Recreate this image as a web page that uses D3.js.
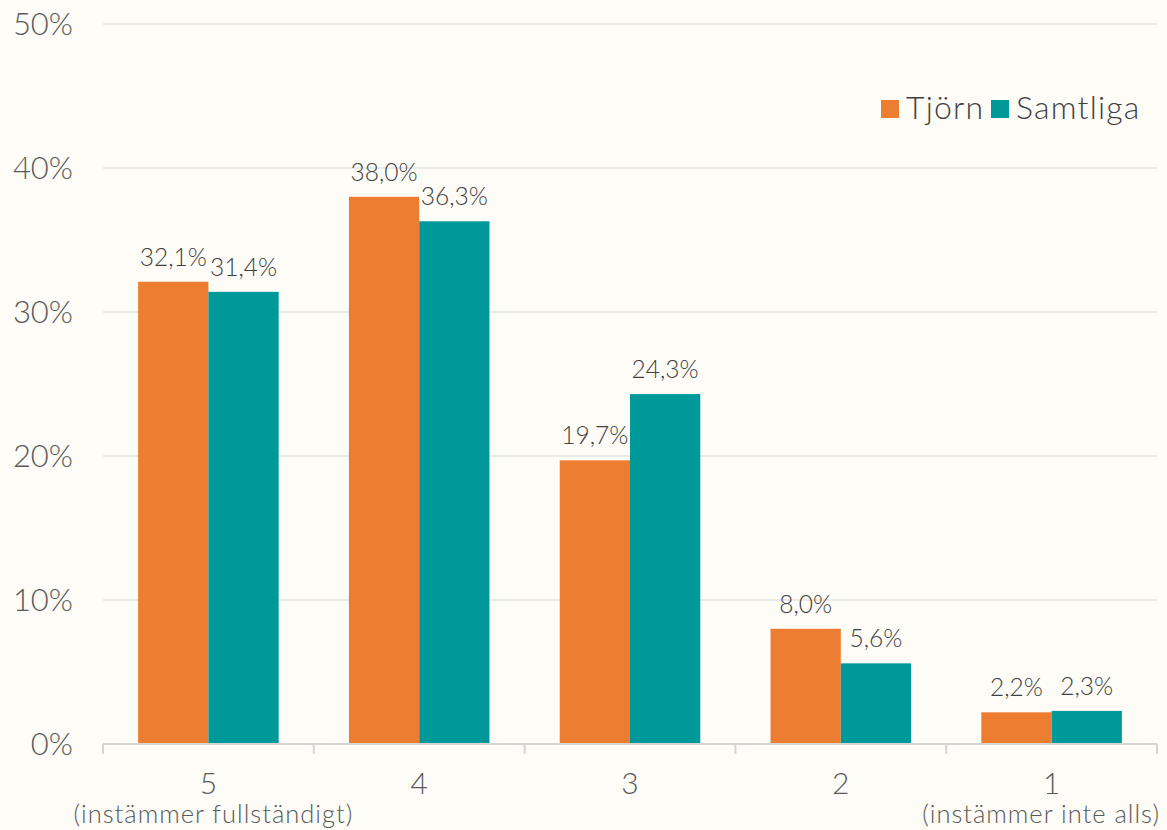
<!DOCTYPE html>
<html><head><meta charset="utf-8">
<script src="https://cdn.jsdelivr.net/npm/d3@7"></script>
<style>
html,body{margin:0;padding:0;background:#FDFCF7;}
svg{display:block;font-family:"Lato","Open Sans",sans-serif;}
</style></head>
<body>
<svg id="c" width="1167" height="830"></svg>
<script>
const categories = ["5", "4", "3", "2", "1"];
const subLabels = ["(instämmer fullständigt)", "", "", "", "(instämmer inte alls)"];
const seriesNames = ["Tjörn", "Samtliga"];
const tjorn = [32.1, 38.0, 19.7, 8.0, 2.2];
const samtliga = [31.4, 36.3, 24.3, 5.6, 2.3];
const yTicks = [0, 10, 20, 30, 40, 50];
const colors = ["#ED7D31", "#009999"];

(function () {
const svg = d3.select("#c");
const pLeft = 103, pRight = 1157, pTop = 24, pBottom = 744;
const x = d3.scaleBand().domain(categories).range([pLeft, pRight]).paddingInner(0).paddingOuter(0);
const x1 = d3.scaleBand().domain(seriesNames).range([0, x.bandwidth()]).paddingInner(0).paddingOuter(0.5);
const y = d3.scaleLinear().domain([0, 50]).range([pBottom, pTop]);
const textColor = "#595959";
const fmt = v => v.toFixed(1).replace(".", ",") + "%";

// gridlines
svg.append("g").selectAll("line").data(yTicks.filter(t => t > 0)).join("line")
  .attr("x1", pLeft).attr("x2", pRight).attr("y1", d => y(d)).attr("y2", d => y(d))
  .attr("stroke", "#E6E5E1").attr("stroke-width", 1.5);

// y labels
svg.append("g").selectAll("text").data(yTicks).join("text")
  .attr("x", 73).attr("y", d => y(d) + 11).attr("text-anchor", "end")
  .attr("font-size", 31).attr("font-weight", 300).attr("fill", textColor).text(d => d + "%");

// bars
const data = categories.map((c, i) => ({c, vals: [{s: seriesNames[0], v: tjorn[i]}, {s: seriesNames[1], v: samtliga[i]}]}));
const g = svg.append("g").selectAll("g").data(data).join("g")
  .attr("transform", d => `translate(${x(d.c)},0)`);
g.selectAll("rect").data(d => d.vals).join("rect")
  .attr("x", d => x1(d.s)).attr("width", x1.bandwidth())
  .attr("y", d => y(d.v)).attr("height", d => pBottom - y(d.v))
  .attr("fill", (d, i) => colors[i]);
g.selectAll("text").data(d => d.vals).join("text")
  .attr("x", d => x1(d.s) + x1.bandwidth() / 2).attr("y", d => y(d.v) - 16)
  .attr("text-anchor", "middle").attr("font-size", 24.5).attr("font-weight", 300)
  .attr("fill", "#404040")
  .text(d => fmt(d.v));

// x axis line and ticks
svg.append("line").attr("x1", pLeft).attr("x2", pRight).attr("y1", pBottom).attr("y2", pBottom)
  .attr("stroke", "#D6D5D1").attr("stroke-width", 2);
const tickXs = categories.map(c => x(c)).concat([pRight]);
svg.append("g").selectAll("line").data(tickXs).join("line")
  .attr("x1", d => d).attr("x2", d => d).attr("y1", pBottom).attr("y2", pBottom + 10)
  .attr("stroke", "#D6D5D1").attr("stroke-width", 2);

// category labels
svg.append("g").selectAll("text").data(categories).join("text")
  .attr("fill", textColor).attr("font-weight", 300)
  .attr("x", d => x(d) + x.bandwidth() / 2).attr("y", 794)
  .attr("text-anchor", "middle").attr("font-size", 30).text(d => d);
svg.append("g").selectAll("text").data(categories).join("text")
  .attr("fill", textColor).attr("font-weight", 300)
  .attr("x", (d, i) => i === categories.length - 1 ? 1160 : x(d) + x.bandwidth() / 2 + 5)
  .attr("y", 823)
  .attr("text-anchor", (d, i) => i === categories.length - 1 ? "end" : "middle")
  .attr("font-size", 25.5).attr("letter-spacing", 1).text((d, i) => subLabels[i]);

// legend
const leg = svg.append("g");
const legX = [881, 991];
seriesNames.forEach((s, i) => {
  leg.append("rect").attr("x", legX[i]).attr("y", 100).attr("width", 18).attr("height", 18).attr("fill", colors[i]);
  leg.append("text").attr("x", legX[i] + 25).attr("y", 119).attr("font-size", 32)
    .attr("font-weight", 300).attr("letter-spacing", 1.2).attr("fill", "#404040").text(s);
});
})();
</script>
</body></html>
